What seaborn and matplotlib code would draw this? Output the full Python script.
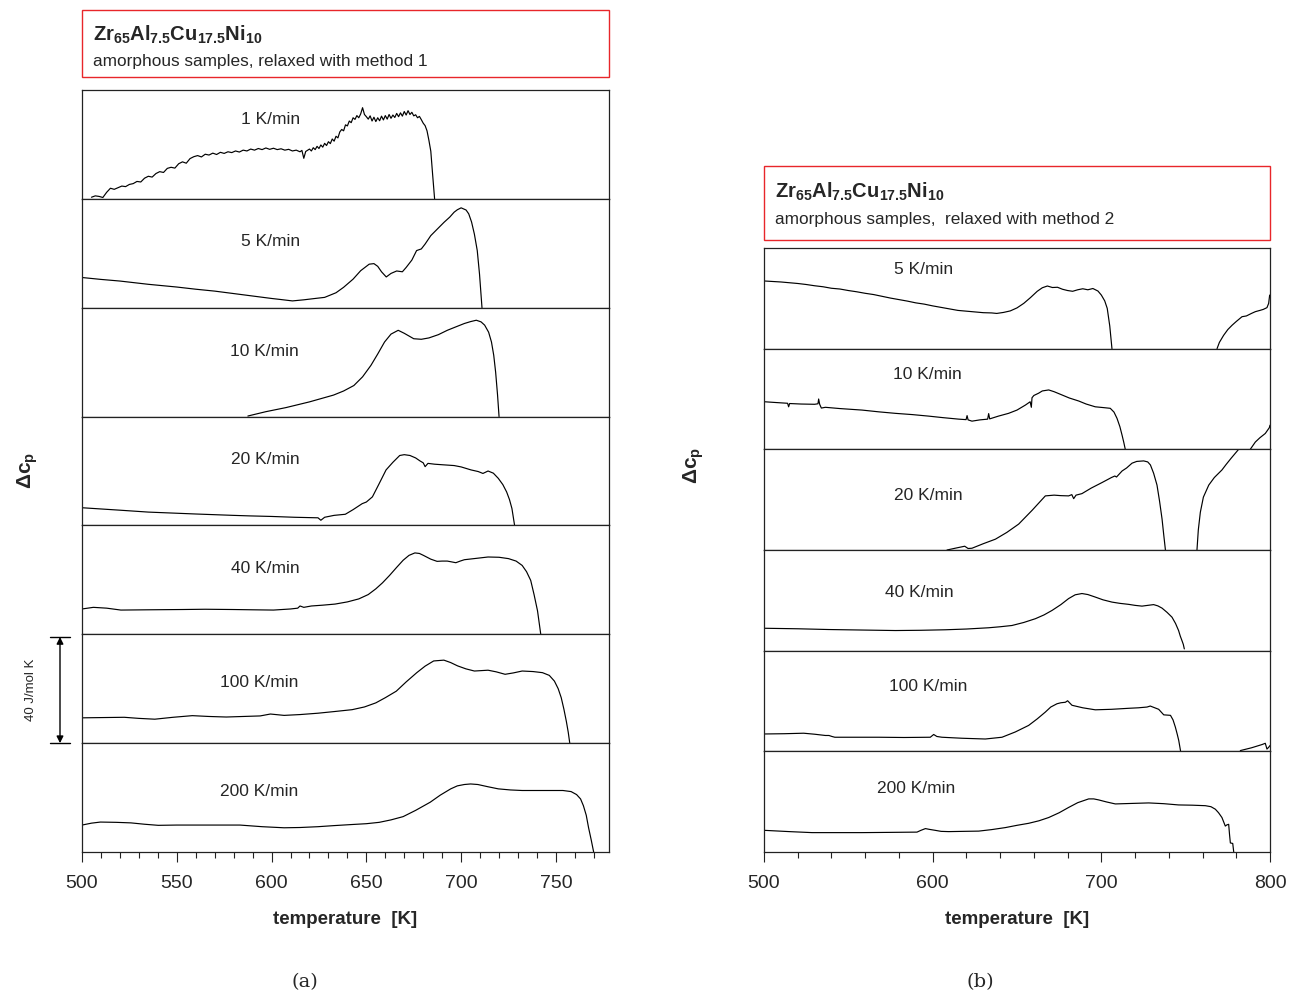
import matplotlib
matplotlib.use("Agg")
import numpy as np
import pandas as pd
import matplotlib.pyplot as plt
import matplotlib.transforms as mtransforms
from matplotlib.patches import Rectangle
from matplotlib.ticker import MultipleLocator
import seaborn as sns

sns.set_style("ticks")
plt.rcParams["font.family"] = ["Liberation Sans", "DejaVu Sans"]
plt.rcParams["mathtext.fontset"] = "custom"
plt.rcParams["mathtext.rm"] = "Liberation Sans"
plt.rcParams["mathtext.bf"] = "Liberation Sans:bold"
plt.rcParams["mathtext.it"] = "Liberation Sans:italic"

# ---------------- data: method 1 (panel a), delta c_p in J/mol K ----------------
rates_a = ["1", "5", "10", "20", "40", "100", "200"]

L1_T = [505, 507, 509, 511, 513, 515, 517, 519, 521, 523, 525, 527, 529, 531, 533, 535, 537, 539,
        541, 543, 545, 547, 549, 551, 553, 555, 557, 559, 561, 563, 565, 567, 569, 571, 573, 575,
        577, 579, 581, 583, 585, 587, 589, 591, 593, 595, 597, 599, 601, 603, 605, 607, 609, 611,
        613, 615, 616, 617, 618, 620, 621, 622, 623, 624, 625, 626, 627, 628, 629, 630, 631, 632,
        633, 634, 635, 636, 637, 638, 639, 640, 641, 642, 643, 644, 645, 646, 647, 648, 649, 650,
        651, 652, 653, 654, 655, 656, 657, 658, 659, 660, 661, 662, 663, 664, 665, 666, 667, 668,
        669, 670, 671, 672, 673, 674, 675, 676, 677, 678, 679, 680, 681, 682, 683, 684, 685, 686]
L1_v = [0.6, 1.1, 0.9, 0.5, 2.4, 3.9, 3.5, 4.1, 4.7, 4.5, 5.3, 5.6, 6.4, 6.2, 7.6, 8.3, 8.0, 9.3,
        10.0, 9.7, 11.2, 11.6, 11.3, 12.9, 13.6, 13.1, 14.8, 15.5, 15.9, 15.4, 16.4, 16.1, 16.8, 16.3, 17.1, 16.7,
        17.3, 17.0, 17.6, 17.2, 17.9, 17.6, 18.3, 17.9, 18.5, 18.1, 18.7, 18.2, 18.6, 18.1, 18.4, 17.9, 18.2, 17.6,
        17.9, 17.3, 17.8, 14.9, 17.4, 18.3, 17.6, 18.8, 18.1, 19.3, 18.5, 19.8, 19.0, 20.4, 19.6, 21.0, 20.3, 22.0,
        21.2, 23.0, 22.4, 24.6, 25.5, 25.0, 27.2, 26.8, 28.6, 28.0, 29.8, 29.2, 30.6, 29.8, 31.2, 33.5, 31.0, 30.2,
        29.3, 30.5, 28.6, 30.0, 28.4, 29.8, 28.7, 30.4, 29.0, 30.6, 29.3, 31.0, 29.6, 30.8, 29.9, 31.4, 30.2, 31.6,
        30.4, 32.1, 30.8, 32.4, 31.0, 31.8, 30.5, 30.9, 29.8, 30.3, 29.1, 27.8, 26.9, 25.0, 21.5, 17.5, 8.6, 0.0]

L5_T = [500, 510, 520, 535, 550, 560, 570, 580, 590, 600, 605, 611, 617, 623, 628, 634, 638, 643, 647,
        651.5, 654, 656, 658, 660.5, 663, 666, 669, 671, 674, 676.5, 679, 681, 684, 687, 691, 694, 696.3,
        698, 700, 702.6, 704, 705.5, 707, 708.5, 709.7, 711]
L5_v = [11.1, 10.4, 9.8, 8.6, 7.6, 6.8, 6.1, 5.2, 4.3, 3.4, 3.0, 2.5, 2.9, 3.4, 3.8, 5.5, 7.5, 10.5, 13.6,
        16.0, 16.2, 15.2, 13.2, 11.3, 12.6, 13.5, 13.2, 14.8, 17.5, 21.0, 21.6, 23.4, 26.5, 28.6, 31.4, 33.3, 35.1,
        36.0, 36.7, 35.9, 34.5, 31.5, 27.0, 21.0, 12.3, 0.0]

L10_T = [587.5, 597, 607.6, 620, 632.7, 638, 643.4, 648, 652.4, 656, 659.6, 663, 666.8, 670, 675, 679,
         683, 688, 692.7, 697, 701.7, 705, 708, 710.5, 712.4, 714.5, 716, 717.2, 718.2, 719.2, 720]
L10_v = [0.2, 1.8, 3.3, 5.4, 7.9, 9.4, 11.4, 14.6, 18.8, 23.0, 27.4, 30.3, 31.7, 30.6, 28.6, 28.4,
         28.9, 30.1, 31.7, 32.9, 34.2, 34.9, 35.4, 34.8, 33.6, 31.0, 27.4, 22.5, 16.3, 8.0, 0.0]

L20_T = [500, 520, 535, 560, 579.7, 588.6, 600, 612, 624.5, 626, 628, 633, 638.9, 643, 647.8, 650, 653.2,
         656.5, 660.4, 664, 667.6, 670, 673, 676, 678.3, 680, 681, 682.5, 686, 690, 696.3, 700, 705.2, 709,
         711.5, 714.2, 717, 719.6, 722, 724, 725.5, 726.8, 728.2]
L20_v = [6.5, 5.6, 4.9, 4.2, 3.7, 3.5, 3.3, 3.0, 2.8, 1.9, 3.0, 3.7, 4.1, 5.8, 8.0, 8.6, 10.5,
         15.0, 20.4, 23.2, 25.7, 26.0, 25.7, 24.8, 23.7, 23.0, 21.6, 22.8, 22.5, 22.3, 22.0, 21.5, 20.4, 19.8,
         19.1, 20.0, 19.2, 17.3, 15.0, 12.3, 9.5, 6.2, 0.0]

L40_T = [500, 506, 513, 520.5, 535, 552.8, 565, 579.7, 590, 601, 610, 613.8, 615, 617, 621, 627, 633.5,
         640, 646, 651, 655, 658.5, 662.2, 666, 669.4, 672.5, 675.6, 678, 680.1, 684, 687.3, 690, 692.7,
         695, 697.2, 699.5, 701.7, 708, 714.2, 720, 725, 729, 732.2, 734.5, 736.7, 738.5, 740.3, 742]
L40_v = [9.3, 9.9, 9.6, 8.9, 9.0, 9.1, 9.2, 9.1, 9.0, 8.9, 9.3, 9.6, 10.4, 9.9, 10.4, 10.7, 11.1,
         11.9, 13.0, 14.6, 16.7, 18.9, 21.6, 24.6, 27.2, 29.0, 29.9, 29.7, 29.0, 27.6, 26.8, 26.9, 26.9,
         26.6, 26.3, 26.9, 27.4, 27.9, 28.4, 28.3, 27.8, 26.9, 25.3, 23.0, 19.8, 14.5, 8.6, 0.0]

L100_T = [500, 511, 522.3, 530, 538.4, 548, 558.2, 567, 576.1, 585, 594, 599.4, 606.6, 615, 624.5, 633,
          642.5, 649, 655, 660, 665.8, 671, 676.6, 681, 685.5, 690.9, 694.5, 698.1, 702.5, 707, 714.2,
          718.5, 723.2, 727.5, 732.2, 738, 742.9, 746.5, 749.2, 751.2, 752.8, 754.2, 755.5, 756.5, 757.3]
L100_v = [9.3, 9.4, 9.5, 9.1, 8.8, 9.5, 10.1, 9.8, 9.6, 9.8, 10.0, 10.7, 10.2, 10.5, 11.0, 11.6,
          12.3, 13.3, 14.8, 16.7, 19.1, 22.5, 25.9, 28.3, 30.2, 30.5, 29.6, 28.4, 27.3, 26.5, 26.8,
          26.2, 25.3, 25.8, 26.5, 26.3, 25.9, 24.9, 22.8, 20.0, 16.7, 12.5, 8.0, 4.0, 0.0]

L200_T = [500, 505, 509.7, 518, 525.8, 533, 540.2, 550, 561.7, 572, 583.3, 595, 606.6, 615, 624.5, 633,
          642.5, 650, 656.8, 663, 669.4, 676, 683.7, 689, 694.5, 698, 701.7, 705, 708.8, 714, 719.6, 726,
          732.2, 743, 753.7, 758, 760.9, 763, 764.5, 766, 767.2, 768.6, 769.9]
L200_v = [9.9, 10.6, 11.0, 10.9, 10.7, 10.2, 9.8, 9.9, 9.9, 9.9, 9.9, 9.3, 8.9, 9.0, 9.3, 9.7,
          10.1, 10.4, 10.9, 11.8, 13.0, 15.3, 18.3, 20.9, 23.2, 24.3, 24.8, 25.0, 24.8, 24.0, 23.2, 22.8,
          22.6, 22.6, 22.6, 22.2, 21.1, 19.5, 17.0, 13.5, 9.0, 4.5, 0.0]

# ---------------- data: method 2 (panel b) ----------------
rates_b = ["5", "10", "20", "40", "100", "200"]

R5_T = [500, 505, 510, 515, 520, 525, 530, 535, 540, 545, 550, 555, 560, 565, 570, 575, 580, 585, 590,
        595, 600, 605, 610, 615, 620, 625, 630, 635, 638, 642, 646, 650, 654, 658, 662, 665, 668, 671,
        674, 677, 680, 683, 686, 689, 692, 695, 698, 700, 702, 703.5, 705, 706.3]
R5_v = [26.9, 26.7, 26.5, 26.2, 25.9, 25.5, 25.0, 24.6, 24.0, 23.7, 23.1, 22.6, 22.0, 21.5, 20.8, 20.1,
        19.5, 18.9, 18.2, 17.7, 17.0, 16.4, 15.8, 15.2, 14.9, 14.6, 14.3, 14.2, 14.0, 14.4, 15.0, 16.2,
        18.0, 20.3, 22.8, 24.2, 24.9, 24.3, 24.4, 23.6, 23.1, 22.8, 23.4, 23.8, 23.4, 23.9, 22.9, 21.3,
        19.0, 16.0, 9.0, 0.0]
R5_T2 = [768.6, 770, 772.5, 775, 777.5, 780, 783.4, 786, 789, 791.3, 794, 796, 798.2, 799.2, 799.8]
R5_v2 = [0.0, 2.5, 5.3, 7.6, 9.3, 10.8, 12.7, 13.0, 14.0, 14.7, 15.2, 15.6, 16.3, 18.0, 21.3]

R10_T = [500.4, 507, 514, 514.6, 515.2, 522, 530, 532, 532.4, 533, 534, 536.4, 545, 558.1, 568, 577.9,
         588, 597.6, 606, 615.4, 619.8, 620.4, 621, 623.3, 628, 632.6, 633.2, 633.8, 639, 645, 650, 655,
         657.8, 658.5, 658.9, 660, 662.8, 665, 668.8, 672, 676.7, 681, 686.6, 691, 696.4, 701, 705.3,
         707.5, 709.3, 711, 712.3, 713.3, 714.2]
R10_v = [18.9, 18.6, 18.3, 16.9, 18.2, 18.0, 17.9, 18.1, 20.0, 17.9, 16.4, 16.7, 16.2, 15.6, 14.9, 14.3,
         13.8, 13.2, 12.6, 12.0, 11.8, 13.4, 11.7, 11.2, 11.7, 12.0, 14.2, 12.1, 13.2, 14.3, 15.6, 17.6,
         18.9, 16.7, 20.5, 21.4, 22.3, 23.2, 23.6, 22.9, 21.6, 20.4, 19.2, 18.0, 16.9, 16.6, 16.3,
         14.8, 12.3, 9.0, 5.6, 2.8, 0.0]
R10_T2 = [788.3, 791.3, 794, 797.2, 799.6, 800]
R10_v2 = [0.0, 2.9, 4.6, 6.3, 8.6, 9.6]

R20_T = [608.5, 614, 619, 621, 623.3, 630, 637.2, 644, 651, 659, 666.8, 672, 676, 680.6, 682.5, 683.6,
         685, 688.5, 694, 700.4, 706, 708, 709, 712.3, 715, 718.2, 721, 725.1, 727.5, 729.1, 731, 733,
         734.5, 736, 737, 738]
R20_v = [0.0, 0.8, 1.5, 0.6, 0.7, 2.5, 4.3, 7.0, 10.3, 15.8, 21.5, 21.8, 21.6, 21.5, 22.0, 20.4,
         21.8, 22.4, 24.6, 26.8, 28.8, 29.4, 29.0, 31.4, 32.6, 34.5, 35.2, 35.4, 35.0, 33.8, 30.5, 25.8,
         19.5, 12.3, 6.0, 0.0]
R20_T2 = [756.7, 757.5, 758.7, 760.5, 763.7, 767, 770, 771.5, 774, 777, 781.4, 783]
R20_v2 = [0.0, 8.0, 15.0, 21.0, 25.8, 28.8, 30.8, 31.8, 34.0, 36.5, 40.0, 41.5]

R40_T = [500.4, 520, 538.3, 558, 577.9, 593, 607.5, 620, 633.2, 640, 647, 654, 660.9, 666, 670.8, 676,
         680.6, 684.5, 688.5, 692, 696.4, 701, 706.3, 711, 716.2, 720, 724.1, 727.5, 731, 733.5, 736,
         739, 741.9, 744, 745.8, 746.8, 747.8, 748.6, 749.2]
R40_v = [8.9, 8.7, 8.4, 8.2, 8.0, 8.1, 8.3, 8.6, 9.1, 9.5, 10.0, 11.2, 12.7, 14.2, 16.0, 18.3,
         20.7, 22.2, 22.7, 22.3, 21.3, 20.2, 19.3, 18.8, 18.4, 18.0, 17.7, 18.0, 18.3, 17.8, 16.9,
         15.2, 13.3, 10.8, 8.0, 5.8, 4.0, 2.5, 0.7]

R100_T = [500.4, 512, 523.5, 530, 536.4, 538.5, 540.3, 542, 555, 568, 583, 598.6, 600.6, 602.5, 605.5,
          617.4, 631.2, 641.1, 649, 656.9, 662, 666.8, 670, 673.7, 676, 678.7, 680, 682.6, 689, 696.4,
          706, 716.2, 722, 727.1, 729, 734, 737, 741, 742.5, 743.9, 745, 745.9, 747]
R100_v = [6.9, 7.0, 7.2, 6.8, 6.3, 6.3, 5.9, 5.6, 5.6, 5.6, 5.5, 5.6, 6.7, 5.9, 5.6,
          5.2, 4.9, 5.6, 7.7, 10.3, 12.9, 15.6, 17.6, 18.9, 19.3, 19.5, 20.1, 18.3, 17.3, 16.5,
          16.7, 17.1, 17.3, 17.6, 18.0, 16.7, 14.5, 14.3, 12.5, 9.6, 6.8, 4.3, 0.0]
R100_T2 = [782.4, 789, 795.3, 797.2, 798.2, 799.2, 800]
R100_v2 = [0.3, 1.4, 2.7, 3.2, 0.9, 1.6, 2.3]

R200_T = [500.4, 515, 528.5, 543, 558.1, 575, 590.7, 593, 595.7, 598, 601.6, 605, 609.5, 618, 627.3, 635,
          643.1, 650, 656.9, 663, 668.8, 675, 680.6, 686, 692.5, 695.5, 698.4, 703, 708.3, 718, 728.1,
          737, 745.8, 754, 761.7, 765, 767.6, 769.5, 771.5, 772.5, 773.5, 774.5, 775.5, 776, 776.5,
          777.2, 777.9, 778.5]
R200_v = [8.6, 8.1, 7.7, 7.7, 7.7, 7.8, 7.9, 8.6, 9.3, 9.0, 8.6, 8.2, 8.1, 8.2, 8.3, 8.9,
          9.7, 10.6, 11.4, 12.4, 13.7, 15.6, 17.7, 19.6, 21.1, 21.1, 20.7, 19.9, 19.1, 19.3, 19.5,
          19.2, 18.7, 18.6, 18.4, 18.0, 17.0, 15.6, 13.7, 12.0, 10.3, 10.8, 11.0, 7.0, 3.6,
          3.5, 3.4, 0.0]

curves_a = [[(L1_T, L1_v)], [(L5_T, L5_v)], [(L10_T, L10_v)], [(L20_T, L20_v)],
            [(L40_T, L40_v)], [(L100_T, L100_v)], [(L200_T, L200_v)]]
curves_b = [[(R5_T, R5_v), (R5_T2, R5_v2)], [(R10_T, R10_v), (R10_T2, R10_v2)],
            [(R20_T, R20_v), (R20_T2, R20_v2)], [(R40_T, R40_v)],
            [(R100_T, R100_v), (R100_T2, R100_v2)], [(R200_T, R200_v)]]

# ---------------- figure ----------------
W, H = 1294, 994
fig = plt.figure(figsize=(W / 100, H / 100), dpi=100)


def fx(px):
    return px / W


def fy(py):
    return 1 - py / H


def to_frame(segments):
    parts = []
    for k, (t, v) in enumerate(segments):
        parts.append(pd.DataFrame({"T": t, "dcp": v, "seg": k}))
    return pd.concat(parts, ignore_index=True)


def draw_stack(left, right, top, bottom, rates, curves, xlim, major, minor, label_xy):
    n = len(rates)
    h = (fy(top) - fy(bottom)) / n
    axes = []
    for i, (rate, segs) in enumerate(zip(rates, curves)):
        ax = fig.add_axes([fx(left), fy(bottom) + (n - 1 - i) * h, fx(right) - fx(left), h])
        df = to_frame(segs)
        sns.lineplot(data=df, x="T", y="dcp", units="seg", estimator=None, sort=False,
                     color="black", linewidth=0.85, ax=ax)
        ax.set_xlim(*xlim)
        ax.set_ylim(0, 40)
        ax.set_yticks([])
        ax.set_xlabel("")
        ax.set_ylabel("")
        for sp in ax.spines.values():
            sp.set_color("#222222")
            sp.set_linewidth(0.9)
        lx, ly = label_xy[i]
        ax.text(lx, ly, f"{rate} K/min", transform=ax.transAxes, ha="center", va="center",
                fontsize=12.5)
        ax.xaxis.set_major_locator(MultipleLocator(major))
        ax.xaxis.set_minor_locator(MultipleLocator(minor))
        if i < n - 1:
            ax.tick_params(axis="x", which="both", bottom=False, labelbottom=False)
        else:
            ax.tick_params(axis="x", which="major", direction="out", length=7, width=0.8,
                           labelsize=14, pad=9.5, color="#222222")
            ax.tick_params(axis="x", which="minor", direction="out", length=4, width=0.8,
                           color="#222222")
            ax.set_xlabel("temperature  [K]", fontsize=13.5, fontweight="bold", labelpad=14)
        axes.append(ax)
    return axes


labels_a = [(0.357, 0.73), (0.357, 0.61), (0.347, 0.60), (0.347, 0.61),
            (0.347, 0.60), (0.336, 0.56), (0.336, 0.56)]
axes_a = draw_stack(82, 609, 90, 852, rates_a, curves_a, (500, 778), 50, 10, labels_a)

labels_b = [(0.316, 0.79), (0.322, 0.74), (0.324, 0.54), (0.306, 0.58),
            (0.324, 0.64), (0.300, 0.63)]
axes_b = draw_stack(764, 1270, 248, 852, rates_b, curves_b, (500, 800), 100, 20, labels_b)

# header boxes
for (x0, y0, x1, y1, sub, ty1, ty2) in [
        (82, 10, 609, 77, "amorphous samples, relaxed with method 1", 41, 66),
        (764, 166, 1270, 240, "amorphous samples,  relaxed with method 2", 198, 224)]:
    fig.patches.append(Rectangle((fx(x0), fy(y1)), fx(x1) - fx(x0), fy(y0) - fy(y1),
                                 transform=fig.transFigure, fill=False, edgecolor="#e8262a",
                                 linewidth=1.0))
    fig.text(fx(x0 + 11), fy(ty1),
             r"$\mathbf{Zr}_{\mathbf{65}}\mathbf{Al}_{\mathbf{7.5}}\mathbf{Cu}_{\mathbf{17.5}}\mathbf{Ni}_{\mathbf{10}}$",
             fontsize=14.5, va="baseline", ha="left")
    fig.text(fx(x0 + 11), fy(ty2), sub, fontsize=12.4, va="baseline", ha="left")

# y-axis labels
fig.text(fx(28), fy(470), r"$\mathbf{\Delta c}_{\mathbf{p}}$", rotation=90, fontsize=15,
         ha="center", va="center")
fig.text(fx(694), fy(465), r"$\mathbf{\Delta c}_{\mathbf{p}}$", rotation=90, fontsize=15,
         ha="center", va="center")

# 40 J/mol K scale bar beside the 100 K/min trace
ax_s = axes_a[5]
trans = mtransforms.blended_transform_factory(ax_s.transAxes, ax_s.transData)
bx = -22 / 527
ax_s.annotate("", xy=(bx, 0), xytext=(bx, 39.0), xycoords=trans, textcoords=trans,
              arrowprops=dict(arrowstyle="<|-|>", color="black", lw=1.0,
                              mutation_scale=10, shrinkA=0, shrinkB=0),
              annotation_clip=False)
for yv in (0, 39.0):
    ax_s.plot([-32 / 527, -12 / 527], [yv, yv], transform=trans, color="black", lw=1.0,
              clip_on=False)
ax_s.text(-51 / 527, 19.5, "40 J/mol K", transform=trans, rotation=90, fontsize=9.5,
          ha="center", va="center")

# panel captions
fig.text(fx(305), fy(982), "(a)", fontsize=14, family="DejaVu Serif", ha="center", va="center")
fig.text(fx(980), fy(982), "(b)", fontsize=14, family="DejaVu Serif", ha="center", va="center")

fig.savefig("out.png", dpi=100)
